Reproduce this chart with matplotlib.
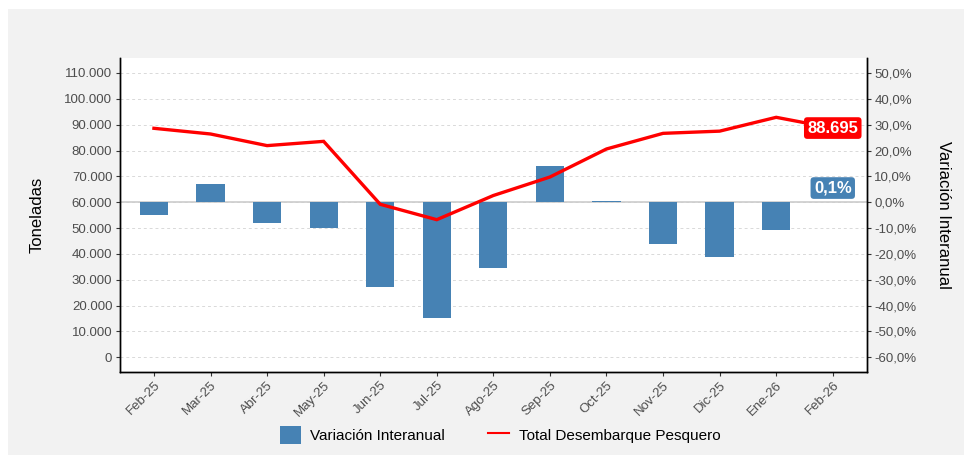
import matplotlib.pyplot as plt
from matplotlib.patches import Rectangle, Patch
from matplotlib.lines import Line2D
from matplotlib.ticker import FuncFormatter, MultipleLocator

plt.rcParams['font.family'] = ['Liberation Sans', 'DejaVu Sans']

meses = ['Feb-25', 'Mar-25', 'Abr-25', 'May-25', 'Jun-25', 'Jul-25', 'Ago-25',
         'Sep-25', 'Oct-25', 'Nov-25', 'Dic-25', 'Ene-26', 'Feb-26']
toneladas = [88600, 86400, 81900, 83550, 59200, 53250, 62600,
             69750, 80600, 86650, 87500, 92850, 88695]
variacion = [-5.0, 7.0, -8.2, -9.9, -33.0, -44.9, -25.3,
             13.9, 0.6, -16.0, -21.3, -10.6, 0.1]

x = list(range(len(meses)))

fig = plt.figure(figsize=(9.64, 4.55), dpi=100, facecolor='white')
fig.patches.append(Rectangle((8 / 964, 0), 1, 1 - 9 / 455, transform=fig.transFigure,
                             facecolor='#f2f2f2', edgecolor='none', zorder=-10))

ax_pct = fig.add_axes([120 / 964, 1 - 371.7 / 455, (866.7 - 120) / 964, (371.7 - 58) / 455])
ax_ton = ax_pct.twinx()

# grid + bars on the percent axis (drawn first, behind the line)
ax_pct.set_ylim(-65.6, 55.8)
ax_pct.yaxis.set_major_locator(MultipleLocator(10))
for v in range(-60, 51, 10):
    ax_pct.axhline(v, color='#d9d9d9', lw=0.7, ls=(0, (3, 3)), zorder=0)
ax_pct.axhline(0, color='#cccccc', lw=1.2, zorder=1)
ax_pct.bar(x, variacion, width=0.5, color='#4682B4', zorder=2)

# line on tonnage axis
ax_ton.set_ylim(-5570, 115800)
ax_ton.yaxis.set_major_locator(MultipleLocator(10000))
ax_ton.plot(x, toneladas, color='#ff0000', lw=2.4, zorder=3, solid_joinstyle='miter')

ax_pct.set_xlim(-0.6, 12.6)
ax_pct.set_xticks(x)
ax_pct.set_xticklabels(meses, rotation=45, ha='right', va='top', rotation_mode='anchor')

# swap sides: tonnage left, percent right
ax_ton.yaxis.tick_left()
ax_ton.yaxis.set_label_position('left')
ax_pct.yaxis.tick_right()
ax_pct.yaxis.set_label_position('right')

ax_ton.yaxis.set_major_formatter(FuncFormatter(lambda v, p: f'{v:,.0f}'.replace(',', '.')))
ax_pct.yaxis.set_major_formatter(FuncFormatter(lambda v, p: f'{v:.1f}%'.replace('.', ',')))

for a in (ax_pct, ax_ton):
    a.tick_params(axis='both', colors='#333333', labelcolor='#4d4d4d', labelsize=9.5,
                  length=3, width=0.8, pad=2.5)
    a.spines['top'].set_visible(False)
    for s in ('left', 'right', 'bottom'):
        a.spines[s].set_color('black')
        a.spines[s].set_linewidth(1.0)
ax_ton.patch.set_visible(False)

ax_ton.set_ylabel('Toneladas', fontsize=12, color='black', labelpad=14)
ax_pct.set_ylabel('Variación Interanual', fontsize=12, color='black', rotation=270,
                  labelpad=14, va='bottom')

# end labels
ax_ton.annotate(f'{toneladas[-1]:,}'.replace(',', '.'), (x[-1], toneladas[-1]),
                ha='center', va='center', color='white', fontsize=12, fontweight='bold',
                bbox=dict(boxstyle='round,pad=0.2,rounding_size=0.2', fc='#ff0000', ec='none'),
                zorder=5)
ax_pct.annotate(f'{variacion[-1]:.1f}%'.replace('.', ','), (x[-1], variacion[-1]),
                xytext=(0, 10), textcoords='offset points',
                ha='center', va='center', color='white', fontsize=12, fontweight='bold',
                bbox=dict(boxstyle='round,pad=0.2,rounding_size=0.2', fc='#4682B4', ec='none'),
                zorder=5)

handles = [Patch(facecolor='#4682B4', edgecolor='none'),
           Line2D([0], [0], color='#ff0000', lw=1.5)]
fig.legend(handles, ['Variación Interanual', 'Total Desembarque Pesquero'],
           loc='center', bbox_to_anchor=(500 / 964, 1 - 435 / 455), ncol=2, frameon=False,
           fontsize=11, handlelength=1.4, handleheight=1.4, handletextpad=0.6,
           columnspacing=2.8)

fig.savefig('out.png', dpi=100, facecolor=fig.get_facecolor())
